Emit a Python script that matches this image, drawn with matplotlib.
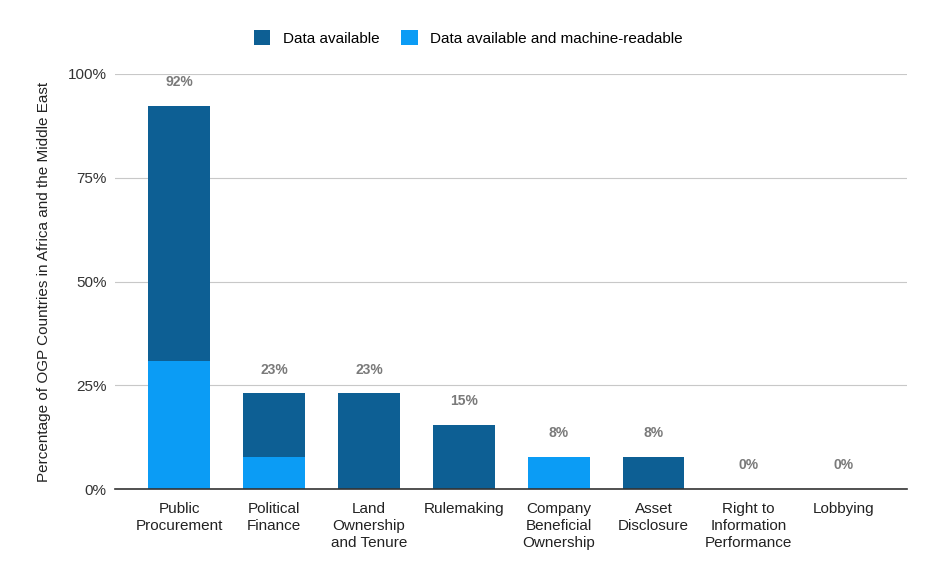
import numpy as np
import matplotlib.pyplot as plt
from matplotlib.ticker import FuncFormatter

plt.rcParams['font.family'] = ['Liberation Sans', 'DejaVu Sans']

categories = ['Public\nProcurement', 'Political\nFinance', 'Land\nOwnership\nand Tenure',
              'Rulemaking', 'Company\nBeneficial\nOwnership', 'Asset\nDisclosure',
              'Right to\nInformation\nPerformance', 'Lobbying']
# share of countries (%)
total = [92.3, 23.1, 23.1, 15.4, 7.7, 7.7, 0, 0]
machine_readable = [30.8, 7.7, 0, 0, 7.7, 0, 0, 0]

dark = '#0d5f94'
light = '#0b9cf5'

available_only = np.array(total) - np.array(machine_readable)
x = np.arange(len(categories))

fig = plt.figure(figsize=(9.36, 5.79), dpi=100)
ax = fig.add_axes([0.123, 0.1554, 0.846, 0.7168])

w = 0.65
ax.bar(x, machine_readable, width=w, color=light, zorder=3,
       label='Data available and machine-readable')
ax.bar(x, available_only, width=w, bottom=machine_readable, color=dark, zorder=3,
       label='Data available')

# value labels above bars
for xi, v in zip(x, total):
    ax.annotate(f'{v:.0f}%', (xi, v), xytext=(0, 17), textcoords='offset points',
                ha='center', va='center', fontsize=10, fontweight='bold', color='#7a7a7a')

ax.set_xlim(-0.674, 7.67)
ax.set_ylim(0, 100)
ax.set_yticks([0, 25, 50, 75, 100])
ax.yaxis.set_major_formatter(FuncFormatter(lambda v, p: f'{v:.0f}%'))
ax.grid(axis='y', color='#c8c8c8', linewidth=0.8, zorder=0)
ax.axhline(0, color='#333333', linewidth=1.2, zorder=4, clip_on=False)

for s in ax.spines.values():
    s.set_visible(False)
ax.tick_params(axis='y', length=0, labelsize=11, colors='#333333', pad=6)
ax.tick_params(axis='x', length=0, labelsize=11, colors='#222222', pad=9)
ax.set_xticks(x)
ax.set_xticklabels(categories, linespacing=1.3, va='top')

ax.set_ylabel('Percentage of OGP Countries in Africa and the Middle East',
              fontsize=11, color='#222222', labelpad=12)

handles, labels = ax.get_legend_handles_labels()
fig.legend(handles[::-1], labels[::-1], loc='center', bbox_to_anchor=(0.5, 0.934),
           ncol=2, frameon=False, fontsize=11, handlelength=1.1, handleheight=1.1,
           columnspacing=1.4, handletextpad=0.8)

fig.savefig('out.png', dpi=100, facecolor='white')
